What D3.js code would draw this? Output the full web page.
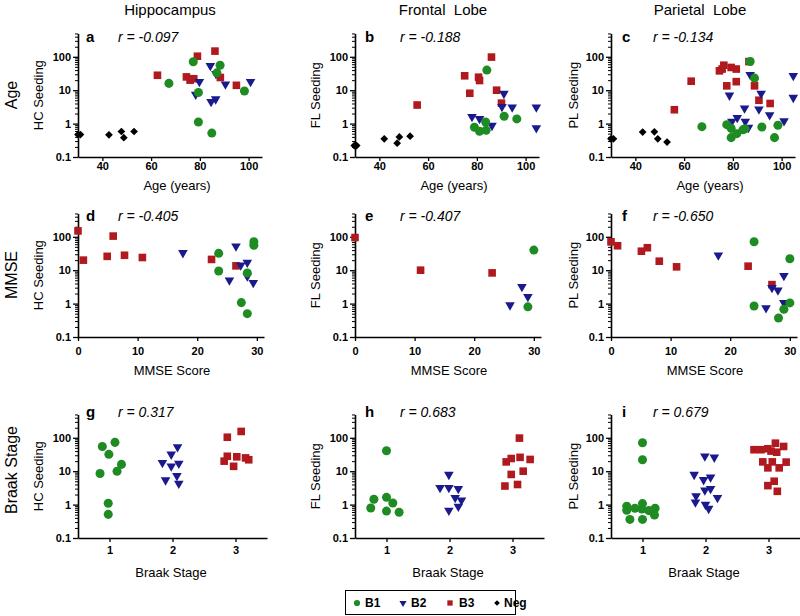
<!DOCTYPE html>
<html><head><meta charset="utf-8">
<script src="https://cdn.jsdelivr.net/npm/d3@7"></script>
<style>body{margin:0;background:#fff} svg{display:block;font-family:"Liberation Sans",Arial,sans-serif}</style>
</head><body><svg id="c" width="800" height="616"></svg>
<script>
// ---------- tick labels / categories ----------
const regions = ["Hippocampus", "Frontal  Lobe", "Parietal  Lobe"];
const regionAbbr = ["HC", "FL", "PL"];
const rowLabels = ["Age", "MMSE", "Braak Stage"];
const xTitles = ["Age (years)", "MMSE Score", "Braak Stage"];
const ageTicks = [40, 60, 80, 100];
const mmseTicks = [0, 10, 20, 30];
const braakTicks = [1, 2, 3];
const yTicks = [0.1, 1, 10, 100];
const panelLetters = ["a","b","c","d","e","f","g","h","i"];
const rValues = ["-0.097","-0.188","-0.134","-0.405","-0.407","-0.650","0.317","0.683","0.679"];
const groups = ["B1", "B2", "B3", "Neg"];

// ---------- data: [x, seeding] ----------
// Row 1: Age
const aNeg = [[30,0.47],[31,0.47],[42.7,0.46],[47.8,0.58],[48.8,0.38],[53,0.58]];
const aB3 = [[62.6,28],[74.5,25],[76,20],[77.5,22],[79,104],[86.2,148],[88.4,24],[95,14]];
const aB2 = [[79.8,18],[78.3,7.4],[84.3,54],[84.6,4.5],[86.5,5.4],[90.5,15],[100.8,18],[86.6,31]];
const aB1 = [[67.3,16],[77.3,71],[79.4,8.5],[79.4,1.12],[84.9,0.52],[87,33],[88.3,56],[98.3,9.5]];

const bNeg = [[29.7,0.22],[30.7,0.22],[42,0.35],[47.3,0.26],[48.2,0.4],[52.6,0.42]];
const bB3 = [[55.5,3.6],[75,27],[77.1,8.1],[80.7,24.5],[81.1,19.5],[86,98],[88.1,10],[90.1,4.1]];
const bB2 = [[78,1.6],[81.1,1.4],[86.2,0.87],[91.1,7.9],[90.3,3.2],[94.5,3.1],[104.4,3.1],[104.4,0.74]];
const bB1 = [[79,0.78],[81.1,0.59],[83.6,1.12],[83.8,0.63],[84.1,40],[91.2,1.66],[96.4,1.38]];

const cNeg = [[30,0.35],[31,0.35],[43,0.56],[47.8,0.57],[49.2,0.35],[53,0.28]];
const cB3 = [[56,2.6],[62.9,18.6],[74.5,38],[75.6,43],[76.3,56],[77.5,13.5],[79.3,48],[81.4,43],[81.4,18],[86.6,72],[88.9,13.5],[90.7,5],[95.3,4]];
const cB2 = [[78.6,7],[79.6,1.15],[81.8,1.5],[84.8,2.9],[85.1,1.15],[86.4,0.76],[87.1,29],[91.6,8],[90.7,2.7],[95.1,1.8],[101,1.2],[104.8,27],[104.8,6]];
const cB1 = [[67.3,0.81],[77.5,0.93],[79.3,0.72],[79.3,0.38],[81.6,0.5],[84.1,0.65],[85,0.7],[87.1,72],[88.9,23],[91.9,0.79],[97.1,0.38],[98.5,0.89]];

// Row 2: MMSE
const dB3 = [[0,150],[0.9,20],[4.9,26],[5.9,105],[7.8,28],[10.8,24],[22.4,21],[26.5,13.5]];
const dB2 = [[17.6,33],[26.5,52],[25.4,5],[27.3,14],[28.4,17],[28.4,6.6],[29.4,4.2]];
const dB1 = [[23.6,32],[23.6,9.5],[27.4,1.07],[28.4,0.5],[28.4,8.3],[29.5,71],[29.5,56]];

const eB3 = [[0,95],[11,10],[23,8.3]];
const eB2 = [[26,0.9],[28,3.2],[29,1.6]];
const eB1 = [[30,40],[29,0.8]];

const fB3 = [[0,71],[1.1,54],[5.1,37],[6.1,47],[8.1,18.6],[11,12.6],[23,13.2],[27,3.7]];
const fB2 = [[18,28],[27,3],[28,2.5],[29,6.8],[29,1.05],[26,0.74]];
const fB1 = [[24,71],[30,22],[24,0.85],[28.1,0.37],[29,0.68],[30,1.05]];

// Row 3: Braak stage (jittered)
const gB1 = [[0.886,55],[1.087,73],[0.99,32],[1.19,16],[0.85,8.5],[1.12,10],[0.98,1.1],[0.98,0.51]];
const gB2 = [[1.84,18],[1.98,32],[2.08,53],[1.98,14],[2.1,17],[1.89,5.4],[2.07,7.3],[2.1,4.3]];
const gB3 = [[2.87,104],[3.09,155],[2.87,28],[3.02,27],[2.82,20],[2.97,14],[3.16,25],[3.21,22]];

const hB1 = [[0.75,0.79],[0.8,1.45],[1,41],[1,1.65],[1,0.64],[1.1,1.12],[1.2,0.59]];
const hB2 = [[1.99,7.9],[1.85,3.2],[1.99,3.2],[2.14,3.0],[2.09,1.6],[2.19,1.35],[2.14,0.88],[1.99,0.67]];
const hB3 = [[3.11,98],[2.9,19],[2.98,24],[3.12,26],[3.28,22.5],[3.17,10],[2.98,8],[2.88,3.6],[3.08,4]];

const iB1 = [[1,71],[1,22],[1,1.07],[0.75,0.89],[0.75,0.68],[0.88,0.78],[0.99,0.74],[1.1,0.66],[1.2,0.78],[1.19,0.49],[0.8,0.36],[1,0.36]];
const iB2 = [[1.99,28],[2.14,26],[1.82,7.9],[1.97,5.5],[2.08,6.6],[1.99,2.7],[2.08,3.0],[1.85,1.8],[2.19,1.6],[1.84,1.18],[2,1.0],[2.05,0.76]];
const iB3 = [[2.77,44],[2.88,44],[2.99,47],[3.11,69],[3.13,37],[3.24,55],[3.04,40],[2.91,19],[3.06,19],[2.99,12.6],[3.17,12.6],[3.28,18.7],[2.99,3.7],[3.09,5],[3.14,2.5]];

// ---------- build ----------
const panelData = [
  {Neg:aNeg,B3:aB3,B2:aB2,B1:aB1},{Neg:bNeg,B3:bB3,B2:bB2,B1:bB1},{Neg:cNeg,B3:cB3,B2:cB2,B1:cB1},
  {B3:dB3,B2:dB2,B1:dB1},{B3:eB3,B2:eB2,B1:eB1},{B3:fB3,B2:fB2,B1:fB1},
  {B1:gB1,B2:gB2,B3:gB3},{B1:hB1,B2:hB2,B3:hB3},{B1:iB1,B2:iB2,B3:iB3}
];
const color = {B1:"#1e8c22", B2:"#1a1a8c", B3:"#b01a1e", Neg:"#000"};
const drawOrder = ["Neg","B3","B2","B1"];

const axisX = [78, 355, 611];
const rowBase = [157, 337, 538];
const decade = 33.4;
const rowCfg = [
  {domain:[30,105.5], width:184, ticks:ageTicks, tickBase:170, titleY:190, titleOff:99, letterY:42},
  {domain:[0,31.2], width:186, ticks:mmseTicks, tickBase:355, titleY:375, titleOff:94, letterY:221},
  {domain:[0.5,3.5], width:189, ticks:braakTicks, tickBase:554, titleY:577, titleOff:93, letterY:417}
];
const rowLabelY = [95, 275, 470];
const yTitleX = [43, 320, 578];
const headerX = [170, 443, 700];
const letterX = [86, 365, 622];
const rX = [118, 400, 653];

const svg = d3.select("#c");
const FONT = '"Liberation Sans", Arial, sans-serif';

function symbolFor(g){
  if (g==="B1") return d3.symbol().type(d3.symbolCircle).size(64)();
  if (g==="B2") return d3.symbol().type(d3.symbolTriangle).size(40)();
  if (g==="B3") return d3.symbol().type(d3.symbolSquare).size(58)();
  return d3.symbol().type(d3.symbolSquare).size(30)();
}
function rotFor(g){ return g==="B2" ? 180 : (g==="Neg" ? 45 : 0); }

// column headers
regions.forEach((t,i)=>{
  svg.append("text").attr("x",headerX[i]).attr("y",15).attr("text-anchor","middle")
    .style("white-space","pre").attr("font-size",15).text(t);
});
// row labels
rowLabels.forEach((t,r)=>{
  svg.append("text").attr("transform",`translate(17,${rowLabelY[r]}) rotate(-90)`)
    .attr("text-anchor","middle").attr("font-size",16).text(t);
});

for (let r=0;r<3;r++){
  const cfg = rowCfg[r];
  for (let c=0;c<3;c++){
    const idx = r*3+c;
    const x0 = axisX[c], yb = rowBase[r];
    const x = d3.scaleLinear().domain(cfg.domain).range([x0, x0+cfg.width]);
    const y = d3.scaleLog().domain([0.1,500]).range([yb, yb - decade*Math.log10(5000)]);
    const g = svg.append("g");

    // minor y ticks
    const minor = y.ticks().filter(v=>!yTicks.includes(v));
    g.append("g").attr("transform",`translate(${x0},0)`)
      .call(d3.axisLeft(y).tickValues(minor).tickSize(3).tickFormat(""))
      .call(s=>s.select(".domain").remove())
      .call(s=>s.selectAll("line").attr("stroke","#000").attr("stroke-width",1));
    // major y axis
    g.append("g").attr("transform",`translate(${x0},0)`)
      .call(d3.axisLeft(y).tickValues(yTicks).tickSize(5).tickPadding(2).tickSizeOuter(0)
        .tickFormat(d=> d<1 ? "0.1" : d3.format("d")(d)))
      .call(s=>s.select(".domain").attr("stroke","#000").attr("stroke-width",1.6))
      .call(s=>s.selectAll("line").attr("stroke","#000").attr("stroke-width",1.3))
      .call(s=>s.selectAll("text").attr("font-family",FONT).attr("font-size",11).attr("font-weight","bold").attr("fill","#000"));
    // x axis
    g.append("g").attr("transform",`translate(0,${yb})`)
      .call(d3.axisBottom(x).tickValues(cfg.ticks).tickSize(4).tickPadding(3).tickSizeOuter(0).tickFormat(d3.format("d")))
      .call(s=>s.select(".domain").attr("stroke","#000").attr("stroke-width",1.6))
      .call(s=>s.selectAll("line").attr("stroke","#000").attr("stroke-width",1.3))
      .call(s=>s.selectAll("text").attr("font-family",FONT).attr("font-size",11).attr("font-weight","bold").attr("fill","#000")
        .attr("dy",null).attr("y", cfg.tickBase - yb));

    // titles
    g.append("text").attr("x", x0+cfg.titleOff).attr("y", cfg.titleY).attr("text-anchor","middle")
      .attr("font-size",13).text(xTitles[r]);
    g.append("text").attr("transform",`translate(${yTitleX[c]},${yb - decade*1.85}) rotate(-90)`)
      .attr("text-anchor","middle").attr("font-size",13).text(regionAbbr[c]+" Seeding");
    g.append("text").attr("x",letterX[c]).attr("y",cfg.letterY).attr("font-size",15).attr("font-weight","bold")
      .text(panelLetters[idx]);
    g.append("text").attr("x",rX[c]).attr("y",cfg.letterY).attr("font-size",14).attr("font-style","italic")
      .text("r = "+rValues[idx]);

    // points
    const pd = panelData[idx];
    drawOrder.forEach(grp=>{
      if (!pd[grp]) return;
      g.selectAll(null).data(pd[grp]).enter().append("path")
        .attr("d", symbolFor(grp))
        .attr("transform", d=>`translate(${x(d[0])},${y(d[1])}) rotate(${rotFor(grp)})`)
        .attr("fill", color[grp]);
    });
  }
}

// legend
const leg = svg.append("g");
leg.append("rect").attr("x",345.5).attr("y",590.5).attr("width",170).attr("height",24)
  .attr("fill","#fff").attr("stroke","#000").attr("stroke-width",1);
const legItems = [{g:"B1",sx:357,tx:365},{g:"B2",sx:403,tx:411},{g:"B3",sx:450,tx:459},{g:"Neg",sx:497,tx:504}];
legItems.forEach(it=>{
  const sym = it.g==="B1" ? d3.symbol().type(d3.symbolCircle).size(30)()
            : it.g==="B2" ? d3.symbol().type(d3.symbolTriangle).size(22)()
            : it.g==="B3" ? d3.symbol().type(d3.symbolSquare).size(28)()
            : d3.symbol().type(d3.symbolSquare).size(16)();
  leg.append("path").attr("d",sym).attr("transform",`translate(${it.sx},603) rotate(${rotFor(it.g)})`).attr("fill",color[it.g]);
  leg.append("text").attr("x",it.tx).attr("y",607).attr("font-size",12).attr("font-weight","bold").text(it.g);
});
</script></body></html>
